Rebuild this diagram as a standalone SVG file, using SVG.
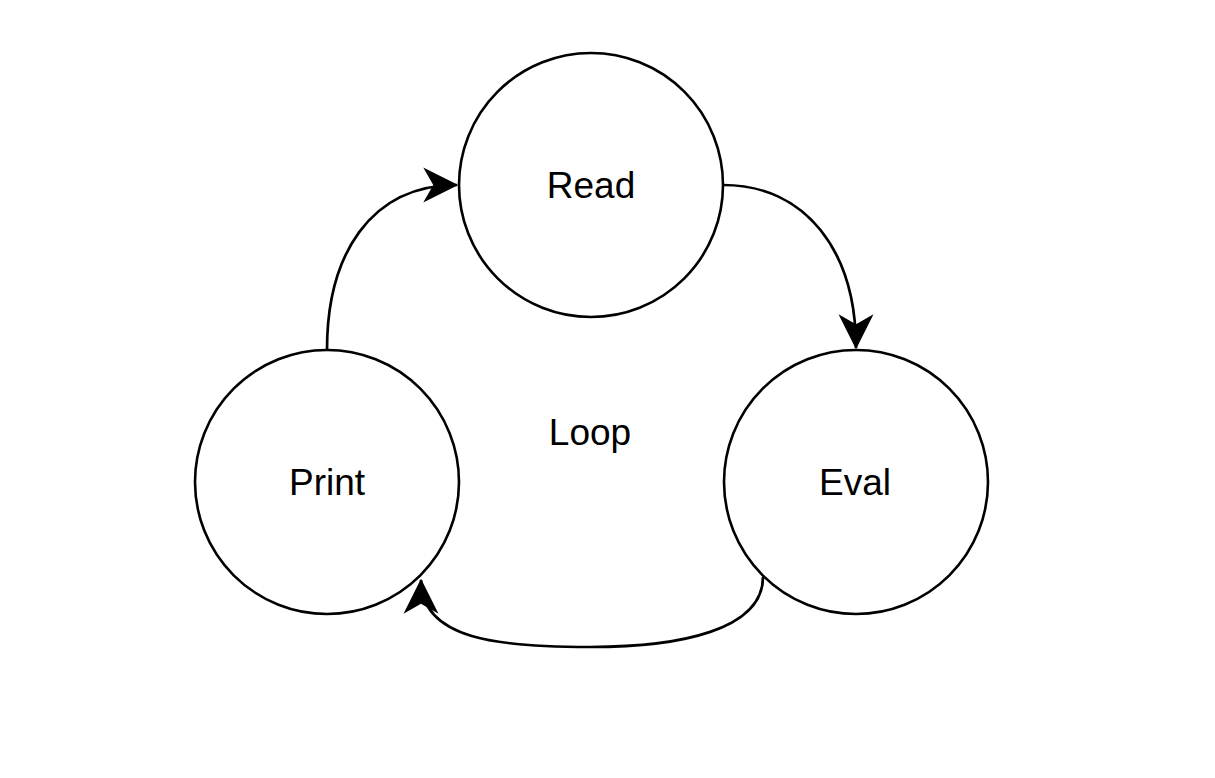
<svg xmlns="http://www.w3.org/2000/svg" width="1215" height="778" viewBox="0 0 1215 778">
<style>
.node{fill:#fff;stroke:#000;stroke-width:2.6}
.lbl{font-family:"Liberation Sans",Arial,sans-serif;font-size:37px;fill:#000;text-anchor:middle}
.edge{fill:none;stroke:#000;stroke-width:2.7;marker-end:url(#arr)}
</style>
<defs>
<marker id="arr" markerUnits="userSpaceOnUse" orient="auto" refX="0" refY="0" markerWidth="40" markerHeight="40" viewBox="-30 -16 32 32" overflow="visible">
<path d="M1,0 L-27,-14 L-19,0 L-27,14 Z" fill="#000" stroke="none"/>
</marker>
</defs>
<rect width="1215" height="778" fill="#fff"/>
<g id="read"><circle class="node" cx="591" cy="185" r="132"/><text class="lbl" x="591" y="198">Read</text></g>
<g id="eval"><circle class="node" cx="856" cy="482" r="132"/><text class="lbl" x="855" y="495">Eval</text></g>
<g id="print"><circle class="node" cx="327" cy="482" r="132"/><text class="lbl" x="327" y="495">Print</text></g>
<g id="loop"><text class="lbl" x="590" y="445">Loop</text></g>
<g id="connectors">
<path class="edge" d="M327,350 C327,255 370,185 457,185"/>
<path class="edge" d="M723,185 C805,185 856,250 856,348"/>
<path class="edge" d="M763,577 C763,630 680,647 590,647 C500,647 421,640 421,580"/>
</g>
</svg>
